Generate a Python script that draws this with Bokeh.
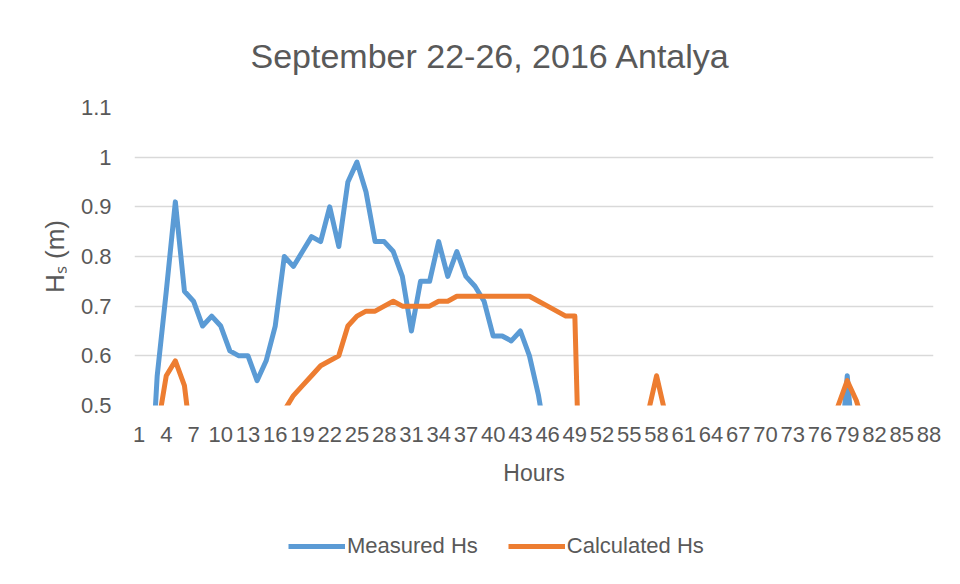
from bokeh.plotting import figure
from bokeh.models import Range1d, FixedTicker, Legend, LegendItem
from bokeh.layouts import column
from bokeh.embed import file_html
from bokeh.resources import INLINE

# ---- data ----
hours = list(range(1, 89))

measured_hs = [
    0.20, 0.24, 0.56, 0.73, 0.91, 0.73, 0.71, 0.66, 0.68, 0.66,
    0.61, 0.60, 0.60, 0.55, 0.59, 0.66, 0.80, 0.78, 0.81, 0.84,
    0.83, 0.90, 0.82, 0.95, 0.99, 0.93, 0.83, 0.83, 0.81, 0.76,
    0.65, 0.75, 0.75, 0.83, 0.76, 0.81, 0.76, 0.74, 0.71, 0.64,
    0.64, 0.63, 0.65, 0.60, 0.52, 0.41, 0.38, 0.35, 0.33, 0.31,
    0.30, 0.32, 0.34, 0.36, 0.38, 0.40, 0.37, 0.35, 0.33, 0.31,
    0.30, 0.29, 0.28, 0.30, 0.32, 0.33, 0.35, 0.36, 0.34, 0.32,
    0.30, 0.31, 0.33, 0.35, 0.37, 0.36, 0.35, 0.34, 0.56, 0.34,
    0.32, 0.30, 0.29, 0.28, 0.27, 0.26, 0.25, 0.25,
]

calculated_hs = [
    0.35, 0.40, 0.45, 0.56, 0.59, 0.54, 0.39, 0.37, 0.36, 0.38,
    0.40, 0.41, 0.42, 0.44, 0.45, 0.47, 0.49, 0.52, 0.54, 0.56,
    0.58, 0.59, 0.60, 0.66, 0.68, 0.69, 0.69, 0.70, 0.71, 0.70,
    0.70, 0.70, 0.70, 0.71, 0.71, 0.72, 0.72, 0.72, 0.72, 0.72,
    0.72, 0.72, 0.72, 0.72, 0.71, 0.70, 0.69, 0.68, 0.68, 0.00,
    0.05, 0.10, 0.20, 0.30, 0.38, 0.44, 0.48, 0.56, 0.48, 0.44,
    0.42, 0.40, 0.41, 0.43, 0.45, 0.44, 0.42, 0.41, 0.43, 0.45,
    0.46, 0.44, 0.43, 0.45, 0.47, 0.46, 0.45, 0.50, 0.55, 0.51,
    0.45, 0.43, 0.42, 0.40, 0.41, 0.42, 0.40, 0.39,
]

x_ticks = list(range(1, 89, 3))
x_tick_labels = [str(t) for t in x_ticks]
y_ticks = [0.5, 0.6, 0.7, 0.8, 0.9, 1.0, 1.1]
y_tick_labels = ["0.5", "0.6", "0.7", "0.8", "0.9", "1", "1.1"]

title_text = "September  22-26, 2016 Antalya"
x_title = "Hours"
y_title = "H\u209b (m)"
series_names = ["Measured Hs", "Calculated Hs"]
series_colors = ["#5B9BD5", "#ED7D31"]

FONT = "Liberation Sans"
TXT = "#595959"

p = figure(
    width=944, height=490,
    output_backend="svg", toolbar_location=None,
    x_range=Range1d(0.5, 88.5), y_range=Range1d(0.5, 1.1),
    min_border_left=134, min_border_right=11,
    min_border_top=107, min_border_bottom=85,
    background_fill_color="white", border_fill_color="white",
)
p.outline_line_color = None

r1 = p.line(hours, measured_hs, line_color=series_colors[0], line_width=5,
            line_join="round", line_cap="round")
r2 = p.line(hours, calculated_hs, line_color=series_colors[1], line_width=5,
            line_join="round", line_cap="round")

# title
p.title.text = title_text
p.title.align = "left"
p.title.offset = 116
p.title.standoff = 65
p.title.text_font = FONT
p.title.text_font_size = "34px"
p.title.text_font_style = "normal"
p.title.text_color = TXT

# axes
xa = p.xaxis[0]
xa.ticker = FixedTicker(ticks=x_ticks)
xa.major_label_overrides = dict(zip(x_ticks, x_tick_labels))
xa.axis_line_color = None
xa.major_tick_line_color = None
xa.minor_tick_line_color = None
xa.major_tick_out = 0
xa.major_label_standoff = 21
xa.major_label_text_font = FONT
xa.major_label_text_font_size = "22px"
xa.major_label_text_color = TXT
xa.axis_label = x_title
xa.axis_label_text_font = FONT
xa.axis_label_text_font_size = "23px"
xa.axis_label_text_font_style = "normal"
xa.axis_label_text_color = TXT
xa.axis_label_standoff = 15

ya = p.yaxis[0]
ya.ticker = FixedTicker(ticks=y_ticks)
ya.major_label_overrides = dict(zip(y_ticks, y_tick_labels))
ya.axis_line_color = None
ya.major_tick_line_color = None
ya.minor_tick_line_color = None
ya.major_tick_out = 0
ya.major_label_standoff = 23
ya.major_label_text_font = FONT
ya.major_label_text_font_size = "22px"
ya.major_label_text_color = TXT
ya.axis_label = y_title
ya.axis_label_text_font = FONT
ya.axis_label_text_font_size = "26px"
ya.axis_label_text_font_style = "normal"
ya.axis_label_text_color = TXT
ya.axis_label_standoff = 8

p.xgrid.grid_line_color = None
p.ygrid.ticker = FixedTicker(ticks=y_ticks)
p.ygrid.grid_line_color = "#D9D9D9"
p.ygrid.grid_line_width = 1.5

# legend strip below the chart (same series, drawn outside its visible range)
lg = figure(
    width=944, height=78,
    output_backend="svg", toolbar_location=None,
    x_range=Range1d(0.5, 88.5), y_range=Range1d(5, 6),
    min_border=0, background_fill_color="white", border_fill_color="white",
)
lg.outline_line_color = None
lg.axis.visible = False
lg.grid.visible = False
k1 = lg.line(hours, measured_hs, line_color=series_colors[0], line_width=5)
k2 = lg.line(hours, calculated_hs, line_color=series_colors[1], line_width=5)

legend = Legend(
    items=[LegendItem(label=series_names[0], renderers=[k1]),
           LegendItem(label=series_names[1], renderers=[k2])],
    orientation="horizontal",
    location=(154, 9),
    glyph_width=57, glyph_height=22,
    label_standoff=2, spacing=30,
    padding=0, margin=0,
    border_line_alpha=0, background_fill_alpha=0,
    label_text_font=FONT, label_text_font_size="22px",
    label_text_color=TXT,
)
lg.add_layout(legend)

open("out.html", "w").write(file_html(column(p, lg, spacing=0), INLINE))
